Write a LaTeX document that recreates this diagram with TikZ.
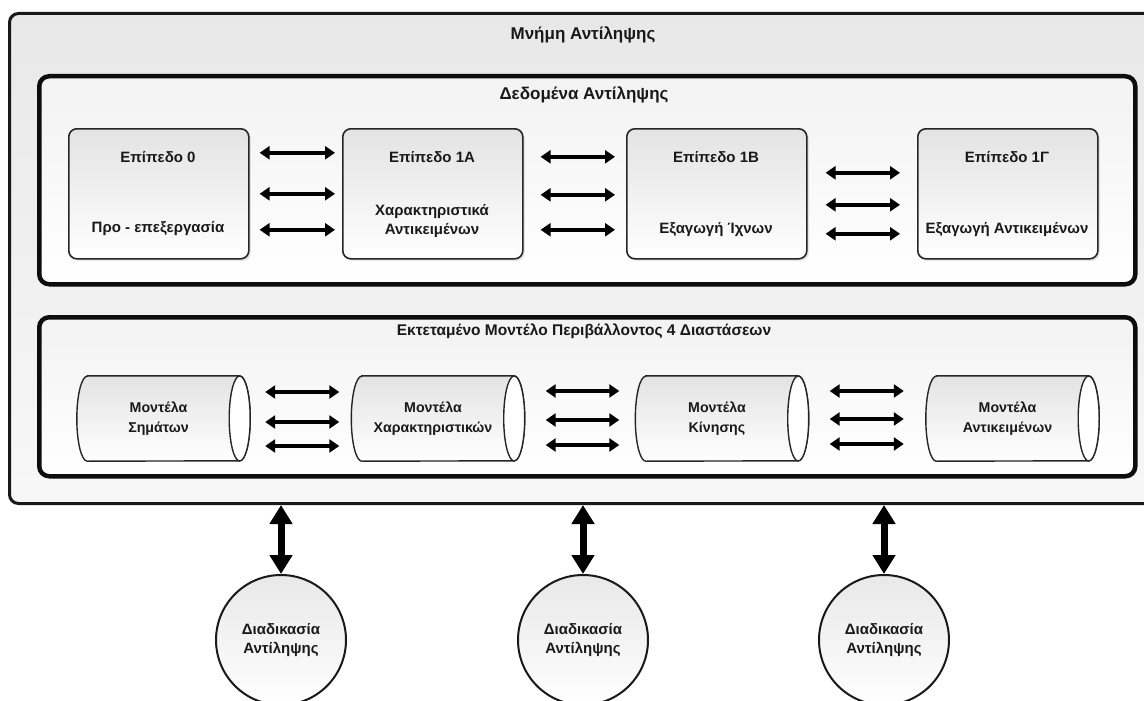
\documentclass[tikz,border=0pt]{standalone}
\usepackage{fontspec}
\setmainfont{Liberation Sans}
\usetikzlibrary{arrows.meta,shadows}
\tikzset{
  txt/.style={font=\fontsize{15}{19}\selectfont\bfseries, text=black!90, align=center, inner sep=0pt},
  ctxt/.style={font=\fontsize{14.2}{19.5}\selectfont\bfseries, text=black!90, align=center, inner sep=0pt},
  ttl/.style={font=\fontsize{17}{20}\selectfont\bfseries, text=black!90, inner sep=0pt},
  mttl/.style={font=\fontsize{15.5}{19}\selectfont\bfseries, text=black!90, inner sep=0pt},
  outerbox/.style={draw=black!90, line width=3pt, rounded corners=9pt, top color=black!9, bottom color=black!3, anchor=north west, inner sep=0pt},
  groupbox/.style={draw=black!95, line width=4.5pt, rounded corners=10pt, top color=black!5, bottom color=white, anchor=north west, inner sep=0pt,
     drop shadow={shadow xshift=2pt, shadow yshift=-2pt, opacity=0.2}},
  levelbox/.style={draw=black!85, line width=1.6pt, rounded corners=8pt, top color=black!11, bottom color=white, anchor=north west,
     minimum width=180pt, minimum height=130pt, inner sep=0pt,
     drop shadow={shadow xshift=2pt, shadow yshift=-2pt, opacity=0.2}},
  cylframe/.style={minimum width=173pt, minimum height=85pt, inner sep=0pt},
  cylbody/.style={draw=black!85, line width=1.4pt, top color=black!11, bottom color=white},
  cylend/.style={draw=black!85, line width=1.4pt, fill=white},
  proc/.style={circle, draw=black!90, line width=2pt, minimum size=130pt, top color=black!9, bottom color=white, txt},
  harrow/.style={line width=3.5pt, {Triangle[length=10pt,width=13pt]}-{Triangle[length=10pt,width=13pt]}},
  varrow/.style={line width=7pt, {Triangle[length=19pt,width=22pt]}-{Triangle[length=19pt,width=22pt]}}
}
\newcommand{\cylpath}[1]{%
  \path[cylbody] ([xshift=10.5pt]#1.north west) -- ([xshift=-10.5pt]#1.north east)
     arc[start angle=90, end angle=-90, x radius=10.5pt, y radius=42.5pt]
     -- ([xshift=10.5pt]#1.south west)
     arc[start angle=270, end angle=90, x radius=10.5pt, y radius=42.5pt] -- cycle;
  \path[cylend] ([xshift=-10.5pt]#1.east) ellipse[x radius=10.5pt, y radius=42.5pt];}
\begin{document}
\begin{tikzpicture}[x=1pt,y=-1pt]
\useasboundingbox (0,0) rectangle (1144,701);
\fill[white] (0,0) rectangle (1144,701);

% outer memory box
\node[outerbox, minimum width=1160pt, minimum height=490pt] (mem) at (8,12) {};
\node[ttl] (memt) at (583,35) {Μνήμη Αντίληψης};

% data group
\node[groupbox, minimum width=1096pt, minimum height=208pt] (data) at (37,74) {};
\node[ttl] (datat) at (584,95) {Δεδομένα Αντίληψης};

\node[levelbox] (l0) at (68,128) {};
\node[levelbox] (l1a) at (342,128) {};
\node[levelbox] (l1b) at (626,128) {};
\node[levelbox] (l1g) at (917,128) {};

\node[txt] (l0t) at (158,157) {Επίπεδο 0};
\node[txt] (l0s) at (158,229) {Προ - επεξεργασία};
\node[txt] (l1at) at (432,157) {Επίπεδο 1Α};
\node[txt] (l1as) at (432,221) {Χαρακτηριστικά\\Αντικειμένων};
\node[txt] (l1bt) at (716,157) {Επίπεδο 1Β};
\node[txt] (l1bs) at (716,230) {Εξαγωγή Ίχνων};
\node[txt] (l1gt) at (1007,157) {Επίπεδο 1Γ};
\node[txt] (l1gs) at (1007,230) {Εξαγωγή Αντικειμένων};

\draw[harrow] ([xshift=10pt,yshift=41pt]l0.east) -- ([xshift=-7pt,yshift=41pt]l1a.west);
\draw[harrow] ([xshift=10pt,yshift=0pt]l0.east) -- ([xshift=-7pt,yshift=0pt]l1a.west);
\draw[harrow] ([xshift=10pt,yshift=-36pt]l0.east) -- ([xshift=-7pt,yshift=-36pt]l1a.west);

\draw[harrow] ([xshift=17pt,yshift=37pt]l1a.east) -- ([xshift=-11pt,yshift=37pt]l1b.west);
\draw[harrow] ([xshift=17pt,yshift=-1pt]l1a.east) -- ([xshift=-11pt,yshift=-1pt]l1b.west);
\draw[harrow] ([xshift=17pt,yshift=-36pt]l1a.east) -- ([xshift=-11pt,yshift=-36pt]l1b.west);

\draw[harrow] ([xshift=18pt,yshift=21pt]l1b.east) -- ([xshift=-17pt,yshift=21pt]l1g.west);
\draw[harrow] ([xshift=18pt,yshift=-11pt]l1b.east) -- ([xshift=-17pt,yshift=-11pt]l1g.west);
\draw[harrow] ([xshift=18pt,yshift=-40pt]l1b.east) -- ([xshift=-17pt,yshift=-40pt]l1g.west);

% model group
\node[groupbox, minimum width=1096pt, minimum height=159pt] (model) at (37,315) {};
\node[mttl] (modelt) at (584,331) {Εκτεταμένο Μοντέλο Περιβάλλοντος 4 Διαστάσεων};

\node[cylframe] (c1) at (163.5,418.5) {};
\node[cylframe] (c2) at (438,418.5) {};
\node[cylframe] (c3) at (722,418.5) {};
\node[cylframe] (c4) at (1012.5,418.5) {};
\cylpath{c1}
\cylpath{c2}
\cylpath{c3}
\cylpath{c4}
\node[ctxt] (c1t) at ([xshift=-5pt]c1.center) {Μοντέλα\\Σημάτων};
\node[ctxt] (c2t) at ([xshift=-5pt]c2.center) {Μοντέλα\\Χαρακτηριστικών};
\node[ctxt] (c3t) at ([xshift=-5pt]c3.center) {Μοντέλα\\Κίνησης};
\node[ctxt] (c4t) at ([xshift=-5pt]c4.center) {Μοντέλα\\Αντικειμένων};

\draw[harrow] ([xshift=15pt,yshift=26.5pt]c1.east) -- ([xshift=-12pt,yshift=26.5pt]c2.west);
\draw[harrow] ([xshift=15pt,yshift=-3.5pt]c1.east) -- ([xshift=-12pt,yshift=-3.5pt]c2.west);
\draw[harrow] ([xshift=15pt,yshift=-27.5pt]c1.east) -- ([xshift=-12pt,yshift=-27.5pt]c2.west);

\draw[harrow] ([xshift=21pt,yshift=27.5pt]c2.east) -- ([xshift=-16pt,yshift=27.5pt]c3.west);
\draw[harrow] ([xshift=21pt,yshift=-1.5pt]c2.east) -- ([xshift=-16pt,yshift=-1.5pt]c3.west);
\draw[harrow] ([xshift=21pt,yshift=-26.5pt]c2.east) -- ([xshift=-16pt,yshift=-26.5pt]c3.west);

\draw[harrow] ([xshift=21pt,yshift=27.5pt]c3.east) -- ([xshift=-22pt,yshift=27.5pt]c4.west);
\draw[harrow] ([xshift=21pt,yshift=-0.5pt]c3.east) -- ([xshift=-22pt,yshift=-0.5pt]c4.west);
\draw[harrow] ([xshift=21pt,yshift=-25.5pt]c3.east) -- ([xshift=-22pt,yshift=-25.5pt]c4.west);

% processes
\node[proc] (p1) at (281,640) {Διαδικασία\\Αντίληψης};
\node[proc] (p2) at (583,640) {Διαδικασία\\Αντίληψης};
\node[proc] (p3) at (884,640) {Διαδικασία\\Αντίληψης};

\draw[varrow] (p1.north |- mem.south) -- (p1.north);
\draw[varrow] (p2.north |- mem.south) -- (p2.north);
\draw[varrow] (p3.north |- mem.south) -- (p3.north);
\end{tikzpicture}
\end{document}
